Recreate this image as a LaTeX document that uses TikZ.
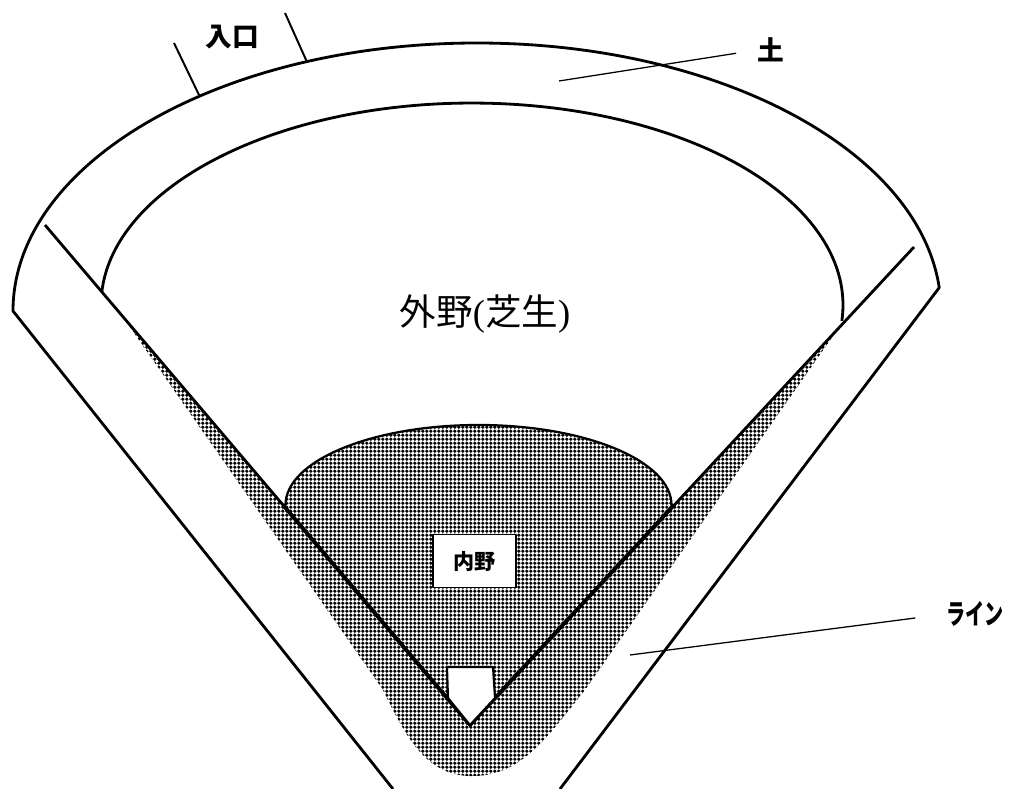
\documentclass[tikz,border=0pt]{standalone}
\usepackage{fontspec}
\setmainfont{Liberation Serif}
\newfontfamily\jp{Noto Sans CJK JP}
\usetikzlibrary{patterns.meta}

\tikzdeclarepattern{
	name=dirtdots,
	type=uncolored,
	bounding box={(0pt,0pt) and (3pt,3pt)},
	tile size={(3pt,3pt)},
	code={
		\fill (1.5pt,0pt) -- (3pt,1.5pt) -- (1.5pt,3pt) -- (0pt,1.5pt) -- cycle;
	}
}

\begin{document}
\begin{tikzpicture}[x=0.025cm,y=-0.025cm,line join=round,
		fieldline/.style={line width=2pt},
		leader/.style={line width=0.9pt},
		tag/.style={font=\jp\bfseries\fontsize{19pt}{22pt}\selectfont,inner sep=0pt}]
			\useasboundingbox (0,0) rectangle (1014,789);
			\coordinate (home) at (470,725);
			\coordinate (lfoul) at (45,225);
			\coordinate (rfoul) at (914,247);
			\coordinate (ldirt) at (283,505);
			\coordinate (rdirt) at (674,505);
			\fill[pattern=dirtdots] (118,310) -- (383,690) .. controls (405,735) and (425,775) .. (470,776)
				.. controls (520,777) and (545,740) .. (585,690) -- (840,326) -- (rdirt) -- (671.5,505)
				arc[start angle=0, end angle=-180, x radius=193, y radius=80] -- (ldirt) -- cycle;
			\draw[fieldline] (393,789) -- (13,311) arc[start angle=180, end angle=355, x radius=464, y radius=268] -- (560,789);
			\draw[fieldline] (101.8,292) arc[start angle=183.7, end angle=364.5, x radius=371, y radius=202];
			\draw[fieldline] (lfoul) -- (home) -- (rfoul);
			\draw[line width=2.7pt] (ldirt) -- (home) -- (rdirt);
			\draw[line width=1.6pt] (ldirt) -- (285.5,505) arc[start angle=180, end angle=360, x radius=193, y radius=80] -- (rdirt);
			\draw[line width=1.5pt,fill=white] (447,667) -- (493,667) -- (495,698) -- (home) -- (448,698) -- cycle;
			\node[draw,fill=white,line width=1pt,minimum width=59pt,minimum height=38pt,
				font=\jp\bfseries\fontsize{15pt}{18pt}\selectfont] (infield) at (474.5,561) {内野};
			\node[font=\fontsize{26pt}{30pt}\selectfont] (outfield) at (485,314) {\jp 外野\rmfamily(\jp 芝生\rmfamily)};
			\node[tag] (gate) at (232,37) {入口};
			\coordinate (gateA) at (200,97);
			\coordinate (gateAtop) at (174,43);
			\coordinate (gateB) at (307,62);
			\coordinate (gateBtop) at (285,13);
			\draw[line width=1.4pt] (gateAtop) -- (gateA);
			\draw[line width=1.4pt] (gateBtop) -- (gateB);
			\node[tag,anchor=west] (soil) at (757,50) {土};
			\coordinate (soilpt) at (559,81);
			\draw[leader,shorten >=15pt] (soilpt) -- (soil.west);
			\node[tag,anchor=west,font=\jp\bfseries\fontsize{20pt}{23pt}\selectfont] (lines) at (946,614) {\scalebox{0.68}[1]{ライン}};
			\coordinate (linept) at (630,655);
			\draw[leader,shorten >=22pt] (linept) -- (lines.west);
\end{tikzpicture}
\end{document}
